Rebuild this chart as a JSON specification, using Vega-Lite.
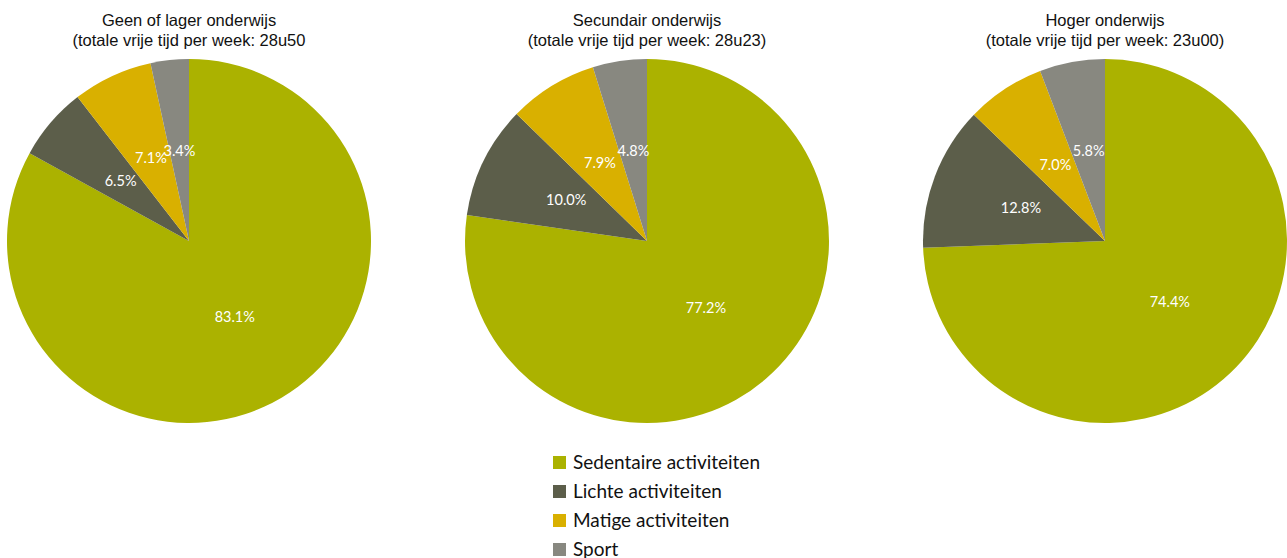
{
  "$schema": "https://vega.github.io/schema/vega-lite/v6.json",
  "padding": {"left": 7, "top": 12, "right": 0, "bottom": 0},
  "background": "white",
  "data": {"values": [
    {"groep": "Geen of lager onderwijs", "cat": "Sedentaire activiteiten", "o": 1, "pct": 83.1, "label": "83.1%"},
    {"groep": "Geen of lager onderwijs", "cat": "Lichte activiteiten", "o": 2, "pct": 6.5, "label": "6.5%"},
    {"groep": "Geen of lager onderwijs", "cat": "Matige activiteiten", "o": 3, "pct": 7.1, "label": "7.1%"},
    {"groep": "Geen of lager onderwijs", "cat": "Sport", "o": 4, "pct": 3.4, "label": "3.4%"},
    {"groep": "Secundair onderwijs", "cat": "Sedentaire activiteiten", "o": 1, "pct": 77.2, "label": "77.2%"},
    {"groep": "Secundair onderwijs", "cat": "Lichte activiteiten", "o": 2, "pct": 10.0, "label": "10.0%"},
    {"groep": "Secundair onderwijs", "cat": "Matige activiteiten", "o": 3, "pct": 7.9, "label": "7.9%"},
    {"groep": "Secundair onderwijs", "cat": "Sport", "o": 4, "pct": 4.8, "label": "4.8%"},
    {"groep": "Hoger onderwijs", "cat": "Sedentaire activiteiten", "o": 1, "pct": 74.4, "label": "74.4%"},
    {"groep": "Hoger onderwijs", "cat": "Lichte activiteiten", "o": 2, "pct": 12.8, "label": "12.8%"},
    {"groep": "Hoger onderwijs", "cat": "Matige activiteiten", "o": 3, "pct": 7.0, "label": "7.0%"},
    {"groep": "Hoger onderwijs", "cat": "Sport", "o": 4, "pct": 5.8, "label": "5.8%"}
  ]},
  "spacing": 94,
  "hconcat": [
    {
      "title": {"text": ["Geen of lager onderwijs", "(totale vrije tijd per week: 28u50"]},
      "width": 364, "height": 364,
      "transform": [{"filter": "datum.groep === 'Geen of lager onderwijs'"}],
      "encoding": {
        "theta": {"field": "pct", "type": "quantitative", "stack": true},
        "order": {"field": "o", "type": "quantitative"},
        "color": {"field": "cat", "type": "nominal", "scale": {"domain": ["Sedentaire activiteiten", "Lichte activiteiten", "Matige activiteiten", "Sport"], "range": ["#ABB200", "#5C5E4A", "#D9B000", "#888880"]}, "legend": {"title": null}}
      },
      "layer": [
        {"mark": {"type": "arc", "radius": 182}},
        {"mark": {"type": "text", "radius": 90, "font": "Lato", "fontSize": 14.5}, "encoding": {"text": {"field": "label"}, "color": {"value": "white"}}}
      ]
    },
    {
      "title": {"text": ["Secundair onderwijs", "(totale vrije tijd per week: 28u23)"]},
      "width": 364, "height": 364,
      "transform": [{"filter": "datum.groep === 'Secundair onderwijs'"}],
      "encoding": {
        "theta": {"field": "pct", "type": "quantitative", "stack": true},
        "order": {"field": "o", "type": "quantitative"},
        "color": {"field": "cat", "type": "nominal", "scale": {"domain": ["Sedentaire activiteiten", "Lichte activiteiten", "Matige activiteiten", "Sport"], "range": ["#ABB200", "#5C5E4A", "#D9B000", "#888880"]}, "legend": {"title": null}}
      },
      "layer": [
        {"mark": {"type": "arc", "radius": 182}},
        {"mark": {"type": "text", "radius": 90, "font": "Lato", "fontSize": 14.5}, "encoding": {"text": {"field": "label"}, "color": {"value": "white"}}}
      ]
    },
    {
      "title": {"text": ["Hoger onderwijs", "(totale vrije tijd per week: 23u00)"]},
      "width": 364, "height": 364,
      "transform": [{"filter": "datum.groep === 'Hoger onderwijs'"}],
      "encoding": {
        "theta": {"field": "pct", "type": "quantitative", "stack": true},
        "order": {"field": "o", "type": "quantitative"},
        "color": {"field": "cat", "type": "nominal", "scale": {"domain": ["Sedentaire activiteiten", "Lichte activiteiten", "Matige activiteiten", "Sport"], "range": ["#ABB200", "#5C5E4A", "#D9B000", "#888880"]}, "legend": {"title": null}}
      },
      "layer": [
        {"mark": {"type": "arc", "radius": 182}},
        {"mark": {"type": "text", "radius": 90, "font": "Lato", "fontSize": 14.5}, "encoding": {"text": {"field": "label"}, "color": {"value": "white"}}}
      ]
    }
  ],
  "config": {
    "view": {"stroke": null},
    "title": {"font": "Liberation Sans", "fontSize": 16.5, "fontWeight": "normal", "color": "#111111", "lineHeight": 20, "offset": 10, "anchor": "middle"},
    "legend": {
      "orient": "none", "legendX": 543, "legendY": 394,
      "symbolType": "square", "symbolSize": 169, "symbolStrokeWidth": 0, "symbolOpacity": 1,
      "labelFont": "Lato", "labelFontSize": 19, "labelColor": "#111111", "labelLimit": 400,
      "rowPadding": 9, "labelOffset": 4, "padding": 0
    }
  }
}
